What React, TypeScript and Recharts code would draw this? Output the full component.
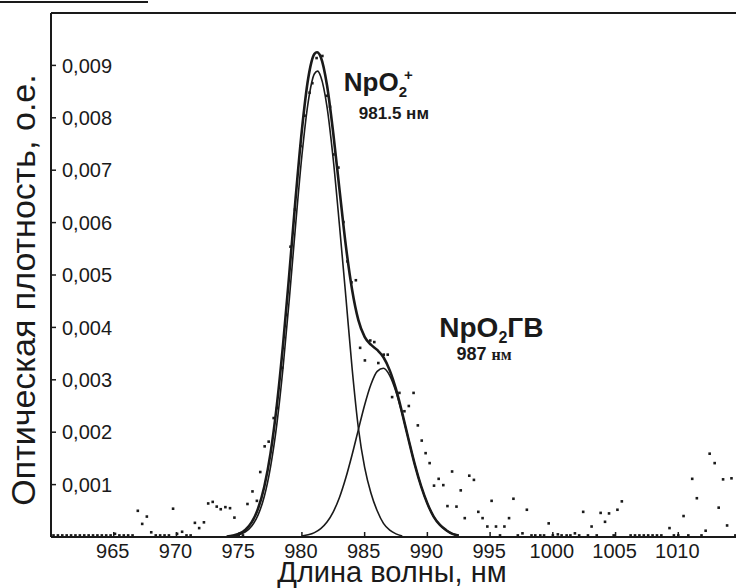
import React from "react";
import {
  ComposedChart,
  Line,
  Scatter,
  XAxis,
  YAxis,
  ReferenceLine,
  ReferenceDot,
} from "recharts";

// ─── Data ─────────────────────────────────────────────────

// Gaussian component of NpO2+ (981.5 nm)
const peak1Nm = [
  974.5, 975, 975.5, 976, 976.5, 977, 977.5, 978, 978.5, 979, 979.5, 980, 980.5, 981, 981.25,
  981.5, 982, 982.5, 983, 983.5, 984, 984.5, 985, 985.5, 986, 986.5, 987, 987.5, 988,
];
const peak1Od = [
  0.000018, 0.000043, 0.000099, 0.00021, 0.000417, 0.000772, 0.00134, 0.00215, 0.00324, 0.00455,
  0.00596, 0.00728, 0.0083, 0.00884, 0.00889, 0.00879, 0.00821, 0.0072, 0.00593, 0.00459, 0.00322,
  0.00208, 0.00133, 0.00084, 0.0005, 0.00026, 0.00013, 0.00006, 0.00002,
];

// Gaussian component of NpO2-ГВ (987 nm)
const peak2Nm = [
  980, 980.5, 981, 981.5, 982, 982.5, 983, 983.5, 984, 984.5, 985, 985.5, 986, 986.5, 987, 987.5,
  988, 988.5, 989, 989.5, 990, 990.5, 991, 991.5, 992, 992.5,
];
const peak2Od = [
  0.000019, 0.000042, 0.000084, 0.00016, 0.000286, 0.000481, 0.000759, 0.00113, 0.00157, 0.00205,
  0.00252, 0.00291, 0.00316, 0.00322, 0.00308, 0.00277, 0.00234, 0.00186, 0.00138, 0.00097,
  0.00064, 0.00039, 0.00023, 0.000125, 0.000064, 0.000031,
];

// summary fit curve
const sumNm = [
  974, 974.5, 975, 975.5, 976, 976.5, 977, 977.5, 978, 978.5, 979, 979.5, 980, 980.5, 981, 981.2,
  981.5, 982, 982.5, 983, 983.5, 984, 984.5, 985, 985.5, 986, 986.5, 987, 987.5, 988, 988.5, 989,
  989.5, 990, 990.5, 991, 991.5, 992, 992.5,
];
const sumOd = [
  0.00001, 0.000028, 0.000064, 0.000139, 0.000283, 0.000539, 0.00096, 0.0016, 0.00251, 0.00368,
  0.00504, 0.00647, 0.00777, 0.00875, 0.00922, 0.00925, 0.00916, 0.00862, 0.0077, 0.00662,
  0.00556, 0.00472, 0.00414, 0.00382, 0.00367, 0.00357, 0.00343, 0.00318, 0.00282, 0.00236,
  0.00186, 0.00138, 0.00097, 0.00064, 0.00039, 0.00023, 0.00013, 0.00006, 0.00003,
];

// measured spectrum
const measuredNm = [
  960.2, 960.55, 960.9, 961.25, 961.6, 961.95, 962.3, 962.65, 963, 963.35, 963.7, 964.05, 964.4,
  964.75, 965.1, 965.45, 965.8, 966.15, 966.5, 966.92, 967.27, 967.64, 967.99, 968.35, 968.7,
  969.05, 969.4, 969.73, 970.05, 970.45, 970.8, 971.13, 971.47, 971.81, 972.19, 972.53, 972.89,
  973.21, 973.53, 973.9, 974.27, 974.62, 974.95, 975.3, 975.66, 976.06, 976.41, 976.68, 977.03,
  977.35, 977.75, 978.02, 978.42, 978.77, 979.09, 979.45, 979.89, 980.21, 980.61, 980.83, 981.17,
  981.63, 981.97, 982.24, 982.51, 982.91, 983.31, 983.63, 983.95, 984.3, 984.64, 985.02, 985.45,
  985.77, 986.09, 986.52, 986.84, 987.19, 987.77, 988.17, 988.52, 988.9, 989.24, 989.55, 989.86,
  990.18, 990.53, 990.9, 991.27, 991.6, 991.97, 992.32, 992.66, 992.98, 993.34, 993.71, 994.06,
  994.4, 994.78, 995.12, 995.47, 995.79, 996.14, 996.51, 996.86, 997.21, 997.58, 997.93, 998.3,
  998.6, 999, 999.3, 999.67, 1000, 1000.4, 1000.7, 1001.1, 1001.4, 1001.76, 1002.1, 1002.42,
  1002.8, 1003.09, 1003.5, 1003.81, 1004.16, 1004.48, 1004.85, 1005.15, 1005.5, 1006.2, 1006.55,
  1006.9, 1007.25, 1007.6, 1007.95, 1008.3, 1008.65, 1009.3, 1009.65, 1010, 1010.42, 1010.8,
  1011.11, 1011.48, 1011.85, 1012.18, 1012.5, 1012.9, 1013.22, 1013.57, 1013.89, 1014.24, 1014.55,
];
const measuredOd = [
  0.00003, 0.00003, 0.00003, 0.00003, 0.00003, 0.00003, 0.00003, 0.00003, 0.00003, 0.00003,
  0.00003, 0.00003, 0.00003, 0.00003, 0.00006, 0.00003, 0.00003, 0.00003, 0.00003, 0.0005,
  0.00025, 0.00039, 0.00009, 0.00003, 0.00003, 0.00003, 0.00003, 0.00054, 0.00006, 0.0001,
  0.00003, 0.00003, 0.00027, 0.00017, 0.00028, 0.00064, 0.00067, 0.00058, 0.00053, 0.00057,
  0.00055, 0.00037, 0.00003, 0.00003, 0.00063, 0.00087, 0.00069, 0.00124, 0.00173, 0.00182,
  0.00227, 0.00246, 0.00323, 0.00424, 0.00554, 0.00625, 0.00746, 0.00804, 0.00848, 0.00866,
  0.00914, 0.00918, 0.00842, 0.00821, 0.0073, 0.00705, 0.00601, 0.00526, 0.00486, 0.0049,
  0.00361, 0.00337, 0.00375, 0.00372, 0.00332, 0.00348, 0.00348, 0.00267, 0.00275, 0.0024,
  0.0025, 0.00275, 0.00213, 0.00184, 0.0016, 0.00141, 0.00098, 0.00111, 0.00099, 0.00059,
  0.00125, 0.00058, 0.00089, 0.00036, 0.00117, 0.00109, 0.00048, 0.00036, 0.0002, 0.00069,
  0.0002, 0.00003, 0.0002, 0.00036, 0.00073, 0.00003, 0.00007, 0.00052, 0.00003, 0.00003,
  0.00003, 0.00003, 0.00026, 0.00003, 0.00005, 0.00003, 0.00003, 0.00003, 0.00007, 0.00003,
  0.00048, 0.00003, 0.0002, 0.00003, 0.00046, 0.00029, 0.00045, 0.00003, 0.00052, 0.00068,
  0.00003, 0.00003, 0.00003, 0.00003, 0.00003, 0.00003, 0.00003, 0.00003, 0.00017, 0.00003,
  0.00003, 0.0004, 0.00003, 0.00111, 0.00074, 0.00003, 0.00012, 0.00159, 0.00141, 0.00056,
  0.0011, 0.00022, 0.00112, 0.00003,
];

const xTicks = [965, 970, 975, 980, 985, 990, 995, 1000, 1005, 1010];
const yTicks = [0.001, 0.002, 0.003, 0.004, 0.005, 0.006, 0.007, 0.008, 0.009];

const pairs = (xs: number[], ys: number[]) => xs.map((x, i) => ({ x, y: ys[i] }));

const peak1Data = pairs(peak1Nm, peak1Od);
const peak2Data = pairs(peak2Nm, peak2Od);
const sumData = pairs(sumNm, sumOd);
const measuredData = pairs(measuredNm, measuredOd);

// ─── Styling helpers ──────────────────────────────────────

const FONT = '"Liberation Sans", Arial, sans-serif';
const INK = "#1a1a1a";

function XTick({ x, y, payload }: any) {
  return (
    <g>
      <line x1={x} x2={x} y1={y} y2={y - 5} stroke={INK} strokeWidth={1.5} />
      <text x={x - 1} y={y + 21} textAnchor="middle" fontSize={20} fontFamily={FONT} fill={INK}>
        {payload.value}
      </text>
    </g>
  );
}

const formatOd = (v: number) => v.toFixed(3).replace(".", ",");

function SquareDot({ cx, cy }: any) {
  if (cx == null || cy == null) return null;
  return <rect x={cx - 1.3} y={cy - 1.3} width={2.6} height={2.6} fill={INK} />;
}

function Ion({ cx, cy }: any) {
  return (
    <text x={cx} y={cy} fontFamily={FONT} fontWeight="bold" fill={INK} fontSize={26}>
      NpO
      <tspan fontSize={15} dy={6}>2</tspan>
      <tspan fontSize={15} dx={-3} dy={-17}>+</tspan>
    </text>
  );
}

function IonWave({ cx, cy }: any) {
  return (
    <text x={cx} y={cy} fontFamily={FONT} fontWeight="bold" fill={INK} fontSize={17}>
      981.5 нм
    </text>
  );
}

function Hydrate({ cx, cy }: any) {
  return (
    <text x={cx} y={cy} fontFamily={FONT} fontWeight="bold" fill={INK} fontSize={28}>
      NpO
      <tspan fontSize={16} dy={6}>2</tspan>
      <tspan dy={-6}>ГВ</tspan>
    </text>
  );
}

function HydrateWave({ cx, cy }: any) {
  return (
    <text x={cx} y={cy} fontFamily={FONT} fontWeight="bold" fill={INK} fontSize={18}>
      987{" "}
      <tspan fontFamily='"Liberation Serif", "Times New Roman", serif' fontSize={16}>
        нм
      </tspan>
    </text>
  );
}

// ─── Main Component ───────────────────────────────────────

export default function App() {
  return (
    <div
      style={{
        position: "absolute",
        left: 0,
        top: 0,
        width: 736,
        height: 588,
        background: "#fff",
        overflow: "hidden",
      }}
    >
      <div
        style={{
          position: "absolute",
          left: 0,
          top: 1,
          width: 148,
          height: 2,
          background: INK,
        }}
      />
      <ComposedChart
        width={736}
        height={588}
        margin={{ top: 13, right: 0, bottom: 50, left: 51 }}
      >
        <XAxis
          type="number"
          dataKey="x"
          domain={[960, 1014.6]}
          ticks={xTicks}
          allowDataOverflow
          height={1}
          tickLine={false}
          tickSize={0}
          tickMargin={0}
          tick={<XTick />}
          axisLine={{ stroke: INK, strokeWidth: 2 }}
        />
        <YAxis
          type="number"
          dataKey="y"
          domain={[0, 0.01]}
          ticks={yTicks}
          allowDataOverflow
          width={1}
          mirror
          tickSize={5}
          tickMargin={6}
          tickFormatter={formatOd}
          tick={{ fontSize: 20, fill: INK, fontFamily: FONT }}
          tickLine={{ stroke: INK, strokeWidth: 1.5 }}
          axisLine={{ stroke: INK, strokeWidth: 2 }}
        />
        <ReferenceLine y={0.01} stroke={INK} strokeWidth={2} />

        <Line
          data={peak1Data}
          dataKey="y"
          type="monotone"
          stroke={INK}
          strokeWidth={1.6}
          dot={false}
          isAnimationActive={false}
        />
        <Line
          data={peak2Data}
          dataKey="y"
          type="monotone"
          stroke={INK}
          strokeWidth={1.6}
          dot={false}
          isAnimationActive={false}
        />
        <Line
          data={sumData}
          dataKey="y"
          type="monotone"
          stroke={INK}
          strokeWidth={2.6}
          dot={false}
          isAnimationActive={false}
        />
        <Scatter data={measuredData} dataKey="y" shape={<SquareDot />} isAnimationActive={false} />

        <ReferenceDot x={983.34} y={0.00851} r={0} shape={<Ion />} />
        <ReferenceDot x={984.54} y={0.00797} r={0} shape={<IonWave />} />
        <ReferenceDot x={990.95} y={0.00382} r={0} shape={<Hydrate />} />
        <ReferenceDot x={992.32} y={0.00337} r={0} shape={<HydrateWave />} />
      </ComposedChart>

      <svg
        width={736}
        height={588}
        style={{ position: "absolute", left: 0, top: 0, pointerEvents: "none" }}
      >
        <text
          x={392}
          y={582}
          textAnchor="middle"
          fontSize={29}
          fontFamily={FONT}
          fill={INK}
        >
          Длина волны, нм
        </text>
        <text
          transform="translate(35, 290) rotate(-90)"
          textAnchor="middle"
          fontSize={34}
          fontFamily={FONT}
          fill={INK}
        >
          Оптическая плотность, о.е.
        </text>
      </svg>
    </div>
  );
}
